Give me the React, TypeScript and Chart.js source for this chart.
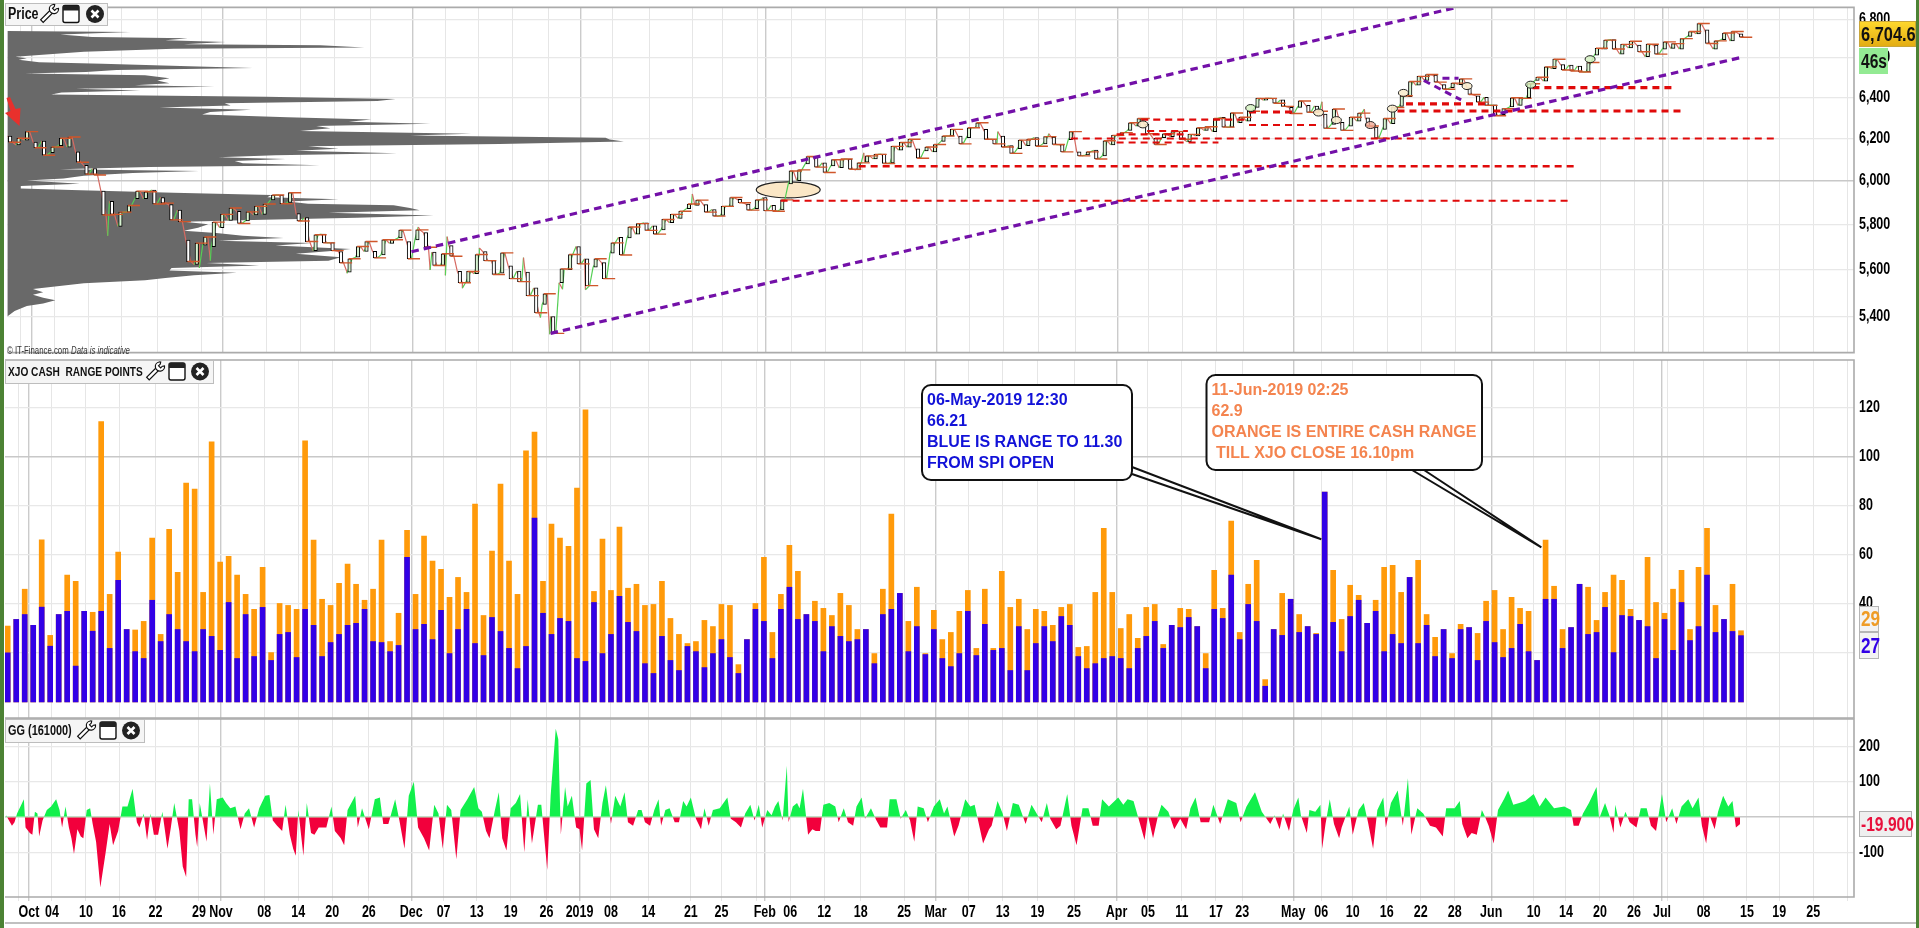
import React, { useEffect, useRef } from "react";
import { Chart, registerables } from "chart.js";

Chart.register(...registerables);

const sessionTicks = [1.25,2.5,5.2,9.2,13.1,17.4,22.5,25.1,30.2,34.2,38.2,42.5,47.5,51.3,55.2,59.2,63.4,67.3,71,75.4,80.4,84,88.1,89.1,92.1,96.1,100.4,105.5,109.2,113.1,117.1,121.2,125.5,130.5,134.2,138.2,142.2,145.3,151.3,154.6,158.3,162.3,166.3,170.3,174.6,179.6,183.4,187.4,191.4,194.7,195.4,199.6,204.7,208.5,212.5,216.5];
const tickLabels = ["","Oct","04","10","16","22","29","Nov","08","14","20","26","Dec","07","13","19","26","2019","08","14","21","25","","Feb","06","12","18","25","Mar","07","13","19","25","Apr","05","11","17","23","May","06","10","16","22","28","Jun","10","14","20","26","Jul","","08","15","19","25",""];
const majorLabels = ["Oct","Nov","Dec","2019","Feb","Mar","Apr","May","Jun","Jul"];

const priceTicks = [5400,5600,5800,6000,6200,6400,6600,6800];
const rangeTicks = [20,40,60,80,100,120];
const ggTicks = [-100,0,100,200];

const dayOpen = [6211,6168,6191,6182,6186,6131,6164,6158,6135,6071,6056,5951,5904,5791,5855,5916,5916,5956,5922,5889,5864,5730,5622,5707,5700,5785,5818,5859,5815,5842,5845,5911,5933,5899,5848,5830,5683,5756,5718,5679,5589,5654,5679,5680,5664,5715,5739,5723,5730,5763,5676,5618,5705,5592,5545,5582,5679,5639,5585,5616,5593,5589,5521,5451,5400,5543,5600,5701,5647,5610,5630,5672,5742,5739,5756,
5807,5793,5775,5807,5827,5871,5886,5889,5867,5840,5881,5913,5892,5871,5922,5886,5865,5984,6000,6078,6110,6083,6068,6060,6101,6050,6086,6102,6125,6083,6143,6158,6150,6140,6135,6185,6211,6211,6203,6251,6243,6195,6211,6165,6150,6165,6203,6173,6206,6170,6193,6135,6120,6143,6116,6168,6211,6238,6259,6267,6200,6203,6208,6235,6183,6211,6238,6232,6302,6254,6275,6283,6350,6386,6395,
6387,6350,6350,6360,6357,6318,6267,6277,6258,6283,6299,6254,6243,6270,6355,6403,6460,6484,6511,6463,6448,6463,6447,6408,6400,6363,6315,6352,6360,6398,6484,6481,6544,6565,6562,6557,6527,6613,6644,6693,6618,6650,6664,6605,6664,6644,6647,6644,6710,6723,6744,6644,6693,6686,6723];
const dayClose = [6181,6200,6232,6155,6119,6158,6200,6206,6086,6030,6026,5842,5845,5855,5885,5951,5948,5892,5896,5820,5812,5635,5716,5743,5810,5845,5874,5804,5856,5881,5892,5933,5893,5944,5815,5723,5753,5717,5683,5629,5647,5701,5723,5651,5731,5731,5774,5647,5775,5698,5618,5669,5658,5543,5592,5666,5639,5579,5673,5561,5548,5488,5416,5496,5330,5603,5666,5625,5531,5647,5561,5717,5664,5788,5803,
5773,5756,5822,5845,5859,5892,5910,5855,5837,5881,5922,5898,5864,5911,5862,5859,5911,6045,6050,6113,6063,6038,6098,6101,6053,6083,6116,6123,6080,6161,6180,6195,6105,6158,6170,6211,6243,6173,6251,6275,6195,6173,6158,6128,6191,6195,6162,6208,6170,6135,6232,6116,6135,6101,6188,6214,6227,6275,6296,6222,6170,6222,6232,6195,6219,6251,6256,6296,6254,6323,6302,6331,6395,6395,6371,
6355,6320,6382,6326,6331,6248,6342,6238,6302,6322,6259,6200,6296,6350,6408,6479,6505,6514,6476,6440,6471,6492,6414,6376,6360,6309,6344,6398,6395,6468,6500,6553,6592,6537,6532,6527,6575,6648,6690,6644,6668,6684,6630,6669,6618,6681,6672,6698,6735,6777,6673,6686,6727,6735,6705];

const spikeSession = [11.5,22.3,23.6,39.7,48.1,49.5,51.3,51.5,53.3,55.3,60.5,62.5,63.6,65.1,67.8,80.4,88.6,100.6,116.4,122.4,154.6,159.6];
const spikePrice = [5749,5607,5639,5584,5788,5598,5575,5745,5520,5695,5652,5396,5326,5515,5513,5938,5915,6130,6232,6222,6378,6342];

const profilePrice = [6737,6732,6720,6706,6700,6690,6681,6669,6663,6652,6646,6630,6614,6605,6597,6589,6576,6569,6556,6547,6537,6527,6519,6511,6495,6484,6470,6460,6453,6443,6434,6424,6414,6403,6392,6382,6371,6360,6350,6339,6328,6315,6302,6291,6280,6270,6259,6248,6235,6222,6213,6203,6194,6185,6173,6162,6150,6140,6128,6119,6110,6101,6092,6081,6072,6063,6053,6045,6035,6023,6010,6000,5985,5975,5963,5956,5944,5933,5923,5914,5904,5893,5886,5874,5864,5852,5840,5830,5820,5812,5800,5785,5771,5761,5749,5739,5727,5717,5705,5690,5680,5669,5654,5639,5629,5618,5607,5596,5586,5575,5564,5554,5541,5516,5502,5492,5479,5468,5455,5444,5423,5400];
const profileVolume = [12,315,142,220,455,400,548,445,780,888,420,200,90,32,60,40,90,245,458,615,280,205,55,350,410,380,410,325,520,180,338,145,120,645,965,920,545,560,385,610,510,490,700,905,850,1050,770,805,730,1150,1000,1480,1490,1525,1220,750,825,720,968,670,530,695,570,590,778,360,140,483,320,200,150,60,190,45,45,170,420,660,650,825,700,750,960,1000,1024,800,1058,870,640,445,505,480,445,525,590,690,530,760,670,855,800,720,830,800,500,630,415,410,575,470,400,350,200,75,100,75,100,130,100,60,30,12];

const channelFrom = [47.3,63.7];
const channelFromPrice = [5678,5330];
const channelTo = [170.3,204.3];
const channelToPrice = [6860,6604];
const swingSession = [166.6,171];
const swingPrice = [6484,6387];
const swingTopSession = [168.8,170.7];
const swingTopPrice = [6495,6495];

const levelPrice = [5907,6067,6199,6332,6328,6264,6448,6368,6290,6219,6180,6235];
const levelFrom = [90.8,100,125,163.5,146,146,179.4,164.5,133.3,130.4,130.4,134];
const levelTo = [183.7,184.6,208,197,151.5,154.5,196.2,173.9,146,138.8,142.4,138.8];
const levelWeight = [2,2.5,1.8,3,3,2,3.2,3.2,2.2,2.2,2,2];

const noteSession = [91.7,133.5,146.2,154.2,156.3,160.3,162.9,164.2,171.7,179.2,186.2];
const notePrice = [5957,6267,6347,6325,6288,6264,6344,6422,6456,6463,6592];

const rangeEntire = [30.9,33.6,45.9,31.2,66.0,27.1,35.6,51.6,49.1,36.9,36.5,114.1,43.8,61,29.5,29.3,32.8,66.7,27.5,70.3,52.8,89.1,86.7,44.6,105.9,56.9,59.3,51.6,43.8,37.7,54.8,20.1,40.1,39.3,37.7,106.3,65.9,41.8,39.3,48.3,56.1,47.9,41.4,45.9,65.9,24.6,36.1,69.9,43.8,67.5,57.3,54,42.6,50.7,44.6,80.5,35.2,61.4,88.7,57.3,43.8,102.2,109.9,49.1,72.4,66.7,63.4,87.1,118.9,45,66.3,45.4,71.2,46.3,47.9,
39.3,39.7,49.1,34,27.5,23.8,24.6,33.2,30.7,39.7,39.3,15.2,25.4,40.1,58.9,28.3,43.8,63.8,53.2,35.6,41,38.1,35.2,44.2,39.3,29.5,29.5,19.7,45.9,76.5,44.2,32.8,46.7,19.7,37.3,25.4,28.3,36.9,45.4,21.8,45.9,21.8,53.2,38.5,41.8,29.5,37.7,36.9,31.2,38.5,39.7,22.2,22.6,44.6,70.7,44.6,29.9,35.6,25.9,38.5,39.7,23.4,31.2,38.1,37.7,30.7,19.7,53.6,38.1,73.6,28.3,47.9,57.7,9.1,29.5,
44.2,41.8,35.6,30.7,27.9,85.4,53.6,33.6,47.5,43.4,32,41.4,54.8,55.6,44.6,50.7,57.7,35.6,26.3,29.5,19.7,31.6,30.3,27.9,41,45.4,29.5,42.6,38.1,36.9,16.9,65.9,47.1,29.5,30.3,47.9,46.7,33.2,44.6,51.6,49.5,37.7,33.2,58.9,40.5,36.1,45.9,53.6,29.5,54.8,70.7,39.3,33.6,47.9,29];
const rangeToNoon = [20,33.6,35.6,31.2,38.6,22.7,35.6,36.9,14.6,36.9,28.8,36.9,21.8,49.5,29.5,20.5,17.7,41.4,24.6,35.6,29.5,24.6,20.5,29.5,26.7,21,40.5,17.7,35.6,18.5,38.5,16.9,27.5,28.3,18.1,37.7,31.2,18.5,24.2,27.5,31.2,32,37.7,24.6,24.2,20.5,23,58.9,29.5,31.6,25.4,37.3,19.7,29.5,37.7,23.8,18.9,34.4,28.7,21.8,13.6,22.6,74.8,36.1,27.5,34,32.8,17.7,16.5,40.5,19.7,27.5,43,32.4,28.7,
15.6,11.6,26.7,16.9,12.8,22.6,20.5,14,19.7,25.4,18.1,11.6,25.4,37.7,32.8,17.7,37.7,46.7,33.6,35.6,32.8,20.5,30.7,26.7,24.6,25.4,29.5,15.6,35.6,37.7,44.2,20.5,30.7,19.3,29.5,17.7,14.4,19.7,36.9,18.9,31.6,21,21.8,12.8,30.7,12.8,23.8,30.7,24.6,34.8,31.2,18.5,13.6,15.6,17.7,18.5,17.7,13.6,21.8,26.7,32.8,21.8,31.2,30.3,34.4,30.7,13.6,37.7,34,51.6,25.4,39.7,32.8,6.4,29.5,
27.1,41.8,28.3,30.7,27.5,85.4,32.4,20.5,34.8,41.4,32,36.9,20.5,27.5,23.8,50.7,23.8,31.2,18.5,29.5,17.7,29.5,30.3,16.9,32.8,24.2,18.1,21.8,31.6,20.5,16.9,41.8,41.8,21.8,30.3,47.9,27.5,28.3,38.5,20.1,35.2,34.8,33.2,30.7,17.7,33.6,21,40.5,25,30.7,51.6,28.3,33.6,28.7,27];

const ggSession = [-0.2,0.5,0.8,1.1,1.5,1.9,2.1,2.6,2.9,3.2,3.5,3.7,4.1,4.6,5.1,5.7,6.1,6.4,6.8,7.2,7.5,7.8,8.2,8.6,8.9,9.3,9.7,10,10.4,10.9,11.5,12,12.4,13,13.5,14.1,14.7,15.2,15.5,16,16.4,16.8,17.2,17.7,18.2,18.8,19.2,19.6,20.2,20.6,21,21.3,21.7,22.1,22.3,22.6,23.4,23.8,24.2,24.6,25.3,25.7,26.2,26.8,27.4,27.9,28.4,29,29.6,30.3,30.8,31.2,31.7,32.3,32.7,33.2,33.6,33.9,34.2,34.8,35.2,35.7,36.1,36.6,37,37.5,38.1,38.5,39.2,39.6,40,40.9,41.2,41.7,42.5,43.2,43.8,44.2,44.8,45.6,46.1,46.7,47.2,47.8,48.3,49,49.6,50.2,50.7,51.2,51.7,52.2,52.8,53.3,54.1,54.9,55.4,55.8,56.3,56.7,57.3,57.8,58.2,58.7,59.2,59.8,60.3,60.8,61.2,61.7,62.4,62.8,63.5,63.9,64.5,64.8,65.1,65.6,65.9,66.4,66.9,67.3,67.6,68.1,68.6,69,69.5,70,70.4,71,71.5,72.1,72.6,73,73.6,74.2,
74.6,75,75.6,76.1,76.6,76.9,77.4,77.9,78.5,79,79.5,79.9,80.4,81,81.6,82,82.5,83,83.8,84.7,85.1,85.7,86.3,86.8,87.4,87.9,88.4,88.8,89.4,89.9,90.3,90.7,91.2,91.7,91.9,92.4,92.9,93.2,93.6,94.2,94.7,95.1,95.6,96,96.7,97.4,97.8,98.4,98.9,99.5,99.9,100.5,100.9,101.6,102.2,102.7,103.5,103.8,104.6,105.1,105.7,106.2,106.7,107.1,107.8,108.3,109,109.7,110.2,110.6,111.4,111.9,112.7,113.3,113.8,114.3,114.8,115.5,115.8,116.5,117.1,117.6,118.3,119,119.8,120.5,121.1,121.7,122.3,122.7,123.4,123.9,124.7,125.2,125.8,126.5,127.2,127.7,128.4,128.8,129.6,130.7,131.3,131.8,132.5,133.1,133.8,134.2,134.8,135.4,135.8,136.6,137.3,138,138.7,139.2,139.8,140.4,141.4,141.9,142.7,143.6,144.6,145.1,145.8,146.8,147.6,148.6,149.1,
149.7,150.1,150.8,151.3,151.9,152.2,152.9,153.2,153.9,154.5,154.7,155.1,155.6,156.1,156.7,157,157.9,158.3,159,159.6,160.1,160.7,161.2,161.9,162.2,162.8,163.6,164.2,164.8,165.2,165.9,166.6,167.4,168.1,168.9,169.3,170.3,170.9,171.2,171.8,172.3,172.9,173.5,173.8,174.3,174.9,175.4,176.1,176.6,177.2,177.9,178.6,179.6,180.3,181,182,183.2,184,184.3,184.9,185.4,186.1,187,187.3,188,188.5,189,189.2,189.8,190.4,190.9,191.7,192.2,192.9,193.4,194,194.7,195.2,195.9,196.4,197,197.8,198.3,199,199.4,199.9,200.3,200.9,201.3,201.9,202.5,203,203.4,203.9];
const ggValue = [5,-25,-15,10,30,50,-30,-45,-50,15,10,-55,-10,20,30,50,20,-30,30,-30,-60,-105,-35,-55,-60,20,25,-20,-70,-200,-105,-20,-80,-40,30,30,80,-15,-30,10,-65,10,-50,-50,15,-90,-30,40,-40,-140,-170,50,50,-50,-85,40,-70,95,-50,50,55,40,25,30,-35,10,25,-30,25,60,62,-10,-25,-40,35,-50,-90,-110,20,-110,40,-45,-50,-30,-30,-30,30,-40,-60,-80,20,60,-30,25,-35,50,55,-20,-20,50,-10,-90,60,100,-30,-60,-95,35,10,-90,35,20,-120,20,50,85,25,15,-40,-60,15,70,-60,-95,25,40,65,-100,50,-75,35,35,-150,60,250,220,-50,85,30,60,-30,-35,-95,95,105,-35,-60,40,90,-20,60,30,70,-15,-25,20,
20,-15,-25,20,50,-25,20,25,-15,-15,45,30,55,-5,-35,25,-25,20,25,55,-5,-15,-30,10,35,-10,35,-30,20,5,30,45,-10,145,-15,30,40,25,80,-50,-35,-40,-40,35,40,30,-15,25,-15,-25,30,55,-5,25,-8,-30,-30,50,50,-5,20,-10,-70,30,25,-15,30,50,10,30,-55,-25,50,30,35,-20,-75,-35,-25,45,10,-40,40,35,-20,35,10,-15,40,-5,-35,-25,65,-25,-80,25,25,-25,-25,50,30,55,35,50,45,-5,-65,5,-60,5,35,15,-35,-5,-35,25,55,-15,-15,35,-20,50,40,-15,30,70,15,-20,5,
-35,10,-40,20,55,5,-45,20,15,35,-90,-20,50,-20,-60,-30,30,-50,20,40,-15,-90,20,55,-30,40,75,-25,110,-50,25,10,-25,-30,-55,25,25,45,-20,-60,-45,-50,20,5,-25,-75,20,50,75,35,40,45,65,30,55,25,30,20,-25,-25,10,40,85,-5,40,5,-45,35,-30,15,-15,-30,25,25,-25,-40,65,-15,25,-20,30,50,25,55,-25,-75,5,-35,15,60,30,45,-30,-20];

const calloutSession = [154.6,180.5];
const calloutValue = [66.21,62.9];
const blueNote = ["06-May-2019 12:30","66.21","BLUE IS RANGE TO 11.30","FROM SPI OPEN"];
const orangeNote = ["11-Jun-2019 02:25","62.9","ORANGE IS ENTIRE CASH RANGE"," TILL XJO CLOSE 16.10pm"];

const lastPrice = "6,704.6";
const countdown = "46s";
const lastEntire = "29";
const lastToNoon = "27";
const lastGG = "-19.900";

const NARROW = "'Liberation Sans Narrow','Liberation Sans',sans-serif";
const SESSION_MIN = -0.32;
const SESSION_MAX = 217.3;
const axisFont = { family: NARROW, size: 16, weight: "bold" as const };

// The condensed platform look has no installed face: squeeze the narrow family horizontally.
function condenseText(canvas: HTMLCanvasElement) {
  const ctx = canvas.getContext("2d") as any;
  const plain = ctx.fillText.bind(ctx);
  ctx.fillText = (text: string, x: number, y: number) => {
    if (!String(ctx.font).includes("Narrow")) {
      plain(text, x, y);
      return;
    }
    ctx.save();
    ctx.translate(x, y);
    ctx.scale(0.78, 1);
    plain(text, 0, 0);
    ctx.restore();
  };
}

function sessionScale(showLabels: boolean) {
  return {
    type: "linear" as const,
    min: SESSION_MIN,
    max: SESSION_MAX,
    offset: false,
    border: { display: false },
    grid: {
      offset: false,
      drawTicks: showLabels,
      tickLength: 4,
      lineWidth: (c: any) => (majorLabels.includes(tickLabels[sessionTicks.indexOf(c.tick?.value)]) ? 1.4 : 1),
      color: (c: any) => (majorLabels.includes(tickLabels[sessionTicks.indexOf(c.tick?.value)]) ? "#cbcbcb" : "#e6e6e6"),
    },
    ticks: {
      display: showLabels,
      autoSkip: false,
      maxRotation: 0,
      minRotation: 0,
      padding: 2,
      color: "#000",
      font: axisFont,
      callback: (v: any) => tickLabels[sessionTicks.indexOf(v)] ?? "",
    },
    afterBuildTicks: (s: any) => {
      s.ticks = sessionTicks.map((value) => ({ value }));
    },
    afterFit: (s: any) => {
      s.height = showLabels ? 31 : 0;
      s.paddingLeft = 0;
      s.paddingRight = 0;
    },
  };
}

function valueScale(type: string, min: number, max: number, list: number[], strong: number, fmt: (v: number) => string) {
  return {
    type,
    position: "right" as const,
    min,
    max,
    beginAtZero: false,
    border: { display: false },
    grid: {
      drawTicks: false,
      color: (c: any) => (c.tick?.value === strong ? "#c8c8c8" : "#e8e8e8"),
      lineWidth: (c: any) => (c.tick?.value === strong ? 1.4 : 1.2),
    },
    ticks: {
      autoSkip: false,
      padding: 5,
      color: "#000",
      font: axisFont,
      callback: (v: any) => (list.includes(v) ? fmt(v) : ""),
    },
    afterBuildTicks: (s: any) => {
      s.ticks = list.map((value) => ({ value }));
    },
    afterFit: (s: any) => {
      s.width = 65;
      s.paddingTop = 0;
      s.paddingBottom = 0;
    },
  };
}

function drawWrench(ctx: CanvasRenderingContext2D, cx: number, cy: number) {
  ctx.save();
  ctx.translate(cx, cy);
  ctx.rotate(Math.PI / 4);
  ctx.fillStyle = "#fff";
  ctx.strokeStyle = "#111";
  ctx.lineWidth = 1.2;
  ctx.beginPath();
  ctx.rect(-1.8, -5, 3.6, 15);
  ctx.fill();
  ctx.stroke();
  ctx.beginPath();
  ctx.arc(0, -7, 4.6, -Math.PI * 0.3, Math.PI * 1.3, false);
  ctx.lineTo(-1.5, -9);
  ctx.lineTo(-1.5, -6.5);
  ctx.lineTo(1.5, -6.5);
  ctx.lineTo(1.5, -9);
  ctx.closePath();
  ctx.fill();
  ctx.stroke();
  ctx.restore();
}

function drawHeader(ctx: CanvasRenderingContext2D, x1: number, y0: number, y1: number, label: string, icons: number[], size: number) {
  ctx.save();
  ctx.fillStyle = "#f5f5f5";
  ctx.strokeStyle = "#bdbdbd";
  ctx.lineWidth = 1;
  ctx.fillRect(5, y0, x1 - 5, y1 - y0);
  ctx.strokeRect(5.5, y0 + 0.5, x1 - 5, y1 - y0);
  ctx.fillStyle = "#111";
  ctx.font = `bold ${size}px ${NARROW}`;
  ctx.textBaseline = "middle";
  ctx.textAlign = "left";
  ctx.fillText(label, 8, (y0 + y1) / 2 + 1);
  const cy = (y0 + y1) / 2;
  drawWrench(ctx, icons[0], cy);
  ctx.fillStyle = "#fff";
  ctx.strokeStyle = "#111";
  ctx.lineWidth = 1.4;
  ctx.beginPath();
  ctx.roundRect(icons[1] - 8, cy - 8.5, 16, 17, 2);
  ctx.fill();
  ctx.stroke();
  ctx.fillStyle = "#222";
  ctx.fillRect(icons[1] - 8, cy - 8.5, 16, 5);
  ctx.fillStyle = "#222";
  ctx.beginPath();
  ctx.arc(icons[2], cy, 9, 0, Math.PI * 2);
  ctx.fill();
  ctx.strokeStyle = "#fff";
  ctx.lineWidth = 2.6;
  ctx.beginPath();
  ctx.moveTo(icons[2] - 3.5, cy - 3.5);
  ctx.lineTo(icons[2] + 3.5, cy + 3.5);
  ctx.moveTo(icons[2] + 3.5, cy - 3.5);
  ctx.lineTo(icons[2] - 3.5, cy + 3.5);
  ctx.stroke();
  ctx.restore();
}

function drawFrame(chart: any) {
  const { ctx, chartArea: a } = chart;
  ctx.save();
  ctx.strokeStyle = "#ababab";
  ctx.lineWidth = 1.6;
  ctx.beginPath();
  ctx.moveTo(a.left, a.top);
  ctx.lineTo(a.right, a.top);
  ctx.lineTo(a.right, a.bottom);
  ctx.lineTo(a.left, a.bottom);
  ctx.stroke();
  ctx.restore();
}

function valueBox(ctx: CanvasRenderingContext2D, x0: number, y0: number, x1: number, y1: number, fill: string | CanvasGradient, stroke: string, text: string, color: string, size: number) {
  ctx.save();
  ctx.fillStyle = fill;
  ctx.strokeStyle = stroke;
  ctx.lineWidth = 1;
  ctx.fillRect(x0, y0, x1 - x0, y1 - y0);
  ctx.strokeRect(x0 + 0.5, y0 + 0.5, x1 - x0 - 1, y1 - y0 - 1);
  ctx.fillStyle = color;
  ctx.font = `bold ${size}px ${NARROW}`;
  ctx.textAlign = "left";
  ctx.textBaseline = "middle";
  ctx.fillText(text, x0 + 2, (y0 + y1) / 2 + 1);
  ctx.restore();
}

function callout(ctx: CanvasRenderingContext2D, x0: number, y0: number, x1: number, y1: number, lines: string[], color: string, textTop: number, tail: number[], tip: number[]) {
  ctx.save();
  ctx.fillStyle = "#fff";
  ctx.strokeStyle = "#111";
  ctx.lineWidth = 2;
  ctx.beginPath();
  ctx.roundRect(x0, y0, x1 - x0, y1 - y0, 9);
  ctx.fill();
  ctx.stroke();
  ctx.beginPath();
  ctx.moveTo(tail[0], tail[1]);
  ctx.lineTo(tip[0], tip[1]);
  ctx.lineTo(tail[2], tail[3]);
  ctx.stroke();
  ctx.fillStyle = color;
  ctx.font = "bold 16px 'Liberation Sans',sans-serif";
  ctx.textBaseline = "middle";
  ctx.textAlign = "left";
  lines.forEach((l, i) => ctx.fillText(l, x0 + 5, textTop + i * 21));
  ctx.restore();
}

const priceOverlay = {
  id: "priceOverlay",
  beforeDatasetsDraw(chart: any) {
    const { ctx, scales } = chart;
    ctx.save();
    ctx.fillStyle = "#fbe7c6";
    ctx.strokeStyle = "#222";
    ctx.lineWidth = 1.2;
    ctx.beginPath();
    ctx.ellipse(scales.x.getPixelForValue(noteSession[0]), scales.y.getPixelForValue(notePrice[0]), 32, 8, 0, 0, Math.PI * 2);
    ctx.fill();
    ctx.stroke();
    ctx.restore();
  },
  afterDatasetsDraw(chart: any) {
    const { ctx, scales } = chart;
    ctx.save();
    ctx.strokeStyle = "#222";
    ctx.lineWidth = 1;
    noteSession.slice(1).forEach((s, i) => {
      ctx.fillStyle = i === 4 ? "rgba(240,170,150,0.8)" : i === 1 || i === 8 || i === 9 ? "rgba(210,240,190,0.8)" : "rgba(248,236,205,0.9)";
      ctx.beginPath();
      ctx.ellipse(scales.x.getPixelForValue(s), scales.y.getPixelForValue(notePrice[i + 1]), 5, 3.5, 0, 0, Math.PI * 2);
      ctx.fill();
      ctx.stroke();
    });
    ctx.fillStyle = "#e8302c";
    ctx.beginPath();
    ctx.moveTo(19.5, 126);
    ctx.lineTo(5, 113);
    ctx.lineTo(10.5, 111);
    ctx.lineTo(6.5, 98);
    ctx.lineTo(10, 97);
    ctx.lineTo(15.5, 109);
    ctx.lineTo(20.5, 108);
    ctx.closePath();
    ctx.fill();
    ctx.restore();
  },
  afterDraw(chart: any) {
    const { ctx } = chart;
    drawFrame(chart);
    drawHeader(ctx, 107, 3, 25, "Price", [49, 71, 95], 16);
    ctx.save();
    ctx.fillStyle = "#333";
    ctx.textBaseline = "middle";
    ctx.textAlign = "left";
    ctx.font = `10px ${NARROW}`;
    ctx.fillText("© IT-Finance.com", 7, 351);
    ctx.font = `italic 10px ${NARROW}`;
    ctx.fillText("Data is indicative", 71, 351);
    ctx.restore();
    const g = ctx.createLinearGradient(0, 21, 0, 47);
    g.addColorStop(0, "#ffd92e");
    g.addColorStop(1, "#e2ab12");
    valueBox(ctx, 1859, 21, 1916, 47, g, "#c9a63a", lastPrice, "#111", 21);
    valueBox(ctx, 1859, 48, 1888, 74, "#93ea93", "#93ea93", countdown, "#111", 20);
  },
};

const rangeOverlay = {
  id: "rangeOverlay",
  afterDraw(chart: any) {
    const { ctx, scales } = chart;
    const top = 359;
    drawFrame(chart);
    drawHeader(ctx, 213, 1, 24, "XJO CASH  RANGE POINTS", [155, 177, 200], 13);
    callout(ctx, 922, 385 - top, 1132, 480 - top, blueNote, "#1212d8", 401 - top, [1132, 467 - top, 1132, 474 - top], [scales.x.getPixelForValue(calloutSession[0]), scales.y.getPixelForValue(calloutValue[0])]);
    callout(ctx, 1206.5, 375 - top, 1482, 470 - top, orangeNote, "#f4844f", 391 - top, [1412, 470 - top, 1424, 470 - top], [scales.x.getPixelForValue(calloutSession[1]), scales.y.getPixelForValue(calloutValue[1])]);
    valueBox(ctx, 1859, 606 - top, 1879, 632 - top, "#f3f3f3", "#b5b5b5", lastEntire, "#ef9c26", 22);
    valueBox(ctx, 1859, 632 - top, 1879, 659 - top, "#f3f3f3", "#b5b5b5", lastToNoon, "#3200e6", 22);
  },
};

const ggOverlay = {
  id: "ggOverlay",
  afterDraw(chart: any) {
    const { ctx } = chart;
    drawFrame(chart);
    drawHeader(ctx, 144, 1, 24, "GG (161000)", [86, 108, 131], 14);
    valueBox(ctx, 1859, 93, 1912, 119, "#efefef", "#b0b0b0", lastGG, "#e8103c", 20);
    ctx.save();
    ctx.strokeStyle = "#ababab";
    ctx.lineWidth = 1.6;
    ctx.beginPath();
    ctx.moveTo(5, 205);
    ctx.lineTo(1916, 205);
    ctx.stroke();
    ctx.restore();
  },
};

const baseOptions = {
  responsive: false,
  animation: false as const,
  events: [] as string[],
  plugins: { legend: { display: false }, tooltip: { enabled: false }, title: { display: false } },
};

export default function App() {
  const priceRef = useRef<HTMLCanvasElement>(null);
  const rangeRef = useRef<HTMLCanvasElement>(null);
  const ggRef = useRef<HTMLCanvasElement>(null);

  useEffect(() => {
    document.body.style.margin = "0";
    document.body.style.overflow = "hidden";
    [priceRef, rangeRef, ggRef].forEach((r) => condenseText(r.current!));

    const dashed = (points: { x: number; y: number }[], color: string, width: number, dash: number[], order: number) => ({
      type: "line" as const,
      data: points,
      borderColor: color,
      borderWidth: width,
      borderDash: dash,
      pointRadius: 0,
      fill: false,
      order,
    });

    const intraday = [
      ...dayOpen.flatMap((o, i) => [
        { x: i - 0.3, y: o },
        { x: i + 0.3, y: dayClose[i] },
      ]),
      ...spikeSession.map((x, i) => ({ x, y: spikePrice[i] })),
    ].sort((a, b) => a.x - b.x);

    const volumeToSession = (v: number) => v / 20.82 - 0.91;
    const profile = [
      { x: SESSION_MIN, y: profilePrice[0] },
      ...profilePrice.map((y, i) => ({ x: volumeToSession(profileVolume[i]), y })),
      { x: SESSION_MIN, y: profilePrice[profilePrice.length - 1] },
    ];

    const price = new Chart(priceRef.current!, {
      type: "bar",
      data: {
        datasets: [
          {
            type: "line",
            data: profile,
            fill: "shape",
            backgroundColor: "#696969",
            borderWidth: 0,
            pointRadius: 0,
            order: 20,
          } as any,
          {
            type: "line",
            data: intraday,
            borderWidth: 1.2,
            pointRadius: 0,
            fill: false,
            borderColor: "#c87060",
            segment: {
              borderColor: (c: any) => (c.p1.parsed.y >= c.p0.parsed.y ? "#55cf55" : "#d66a62"),
            },
            order: 12,
          } as any,
          {
            type: "bar",
            data: dayOpen.map((o, i) => ({ x: i, y: [Math.min(o, dayClose[i]), Math.max(o, dayClose[i])] })),
            barThickness: 3.5,
            grouped: false,
            borderColor: "#000",
            borderWidth: 1,
            borderSkipped: false,
            backgroundColor: (c: any) => (dayClose[c.dataIndex] > dayOpen[c.dataIndex] ? "#d8f3d2" : "#ffffff"),
            order: 10,
          } as any,
          {
            type: "line",
            data: dayClose.map((c, i) => ({ x: i + 0.6, y: c })),
            showLine: false,
            pointStyle: "line",
            pointRadius: 6,
            pointBorderColor: "#d0562a",
            pointBorderWidth: 1.4,
            order: 9,
          } as any,
          ...levelPrice.map((p, i) =>
            dashed(
              [
                { x: levelFrom[i], y: p },
                { x: levelTo[i], y: p },
              ],
              "#e00a0a",
              levelWeight[i],
              [7, 5],
              5,
            ),
          ),
          ...channelFrom.map((f, i) =>
            dashed(
              [
                { x: f, y: channelFromPrice[i] },
                { x: channelTo[i], y: channelToPrice[i] },
              ],
              "#7310a8",
              3.2,
              [7.5, 5],
              4,
            ),
          ),
          dashed(swingSession.map((x, i) => ({ x, y: swingPrice[i] })), "#7310a8", 3, [7, 5], 4),
          dashed(swingTopSession.map((x, i) => ({ x, y: swingTopPrice[i] })), "#7310a8", 3, [7, 5], 4),
        ] as any,
      },
      options: {
        ...baseOptions,
        layout: { padding: { left: 5, top: 3, right: 0, bottom: 2 } },
        scales: {
          x: sessionScale(false),
          y: valueScale("logarithmic", 5251, 6862, priceTicks, 6000, (v) => v.toLocaleString("en-US")),
        },
      } as any,
      plugins: [priceOverlay as any],
    });

    const range = new Chart(rangeRef.current!, {
      type: "bar",
      data: {
        datasets: [
          {
            data: rangeToNoon.map((y, i) => ({ x: i, y })),
            backgroundColor: "#3200e6",
            barThickness: 5,
            grouped: false,
            order: 1,
          },
          {
            data: rangeEntire.map((y, i) => ({ x: i, y })),
            backgroundColor: "#ff9a0a",
            barThickness: 5,
            grouped: false,
            order: 2,
          },
        ] as any,
      },
      options: {
        ...baseOptions,
        layout: { padding: { left: 5, top: 1, right: 0, bottom: 1 } },
        scales: {
          x: sessionScale(false),
          y: valueScale("linear", -6.53, 139.2, rangeTicks, 100, (v) => String(v)),
        },
      } as any,
      plugins: [rangeOverlay as any],
    });

    const gg = new Chart(ggRef.current!, {
      type: "line",
      data: {
        datasets: [
          {
            data: ggSession.map((x, i) => ({ x, y: ggValue[i] })),
            borderWidth: 0,
            pointRadius: 0,
            fill: { target: { value: 0 }, above: "#12f04c", below: "#f2003c" },
            order: 2,
          },
          {
            data: [
              { x: SESSION_MIN, y: 0 },
              { x: ggSession[ggSession.length - 1], y: 0 },
            ],
            borderColor: "#bfeec2",
            borderWidth: 1.2,
            pointRadius: 0,
            fill: false,
            order: 1,
          },
        ] as any,
      },
      options: {
        ...baseOptions,
        layout: { padding: { left: 5, top: 1, right: 0, bottom: 0 } },
        scales: {
          x: sessionScale(true),
          y: valueScale("linear", -226.6, 277.6, ggTicks, 0, (v) => (v === 0 ? "" : String(v))),
        },
      } as any,
      plugins: [ggOverlay as any],
    });

    return () => {
      price.destroy();
      range.destroy();
      gg.destroy();
    };
  }, []);

  const layer = (top: number): React.CSSProperties => ({ position: "absolute", left: 0, top, display: "block" });

  return (
    <div style={{ position: "absolute", left: 0, top: 0, width: 1919, height: 928, overflow: "hidden", background: "#fff" }}>
      <canvas ref={priceRef} width={1919} height={360} style={layer(0)} />
      <canvas ref={rangeRef} width={1919} height={360} style={layer(359)} />
      <canvas ref={ggRef} width={1919} height={210} style={layer(718)} />
      <div style={{ position: "absolute", left: 0, top: 0, width: 4, height: 928, background: "#4c8234" }} />
      <div style={{ position: "absolute", left: 1916, top: 0, width: 3, height: 928, background: "#4c8234" }} />
    </div>
  );
}
